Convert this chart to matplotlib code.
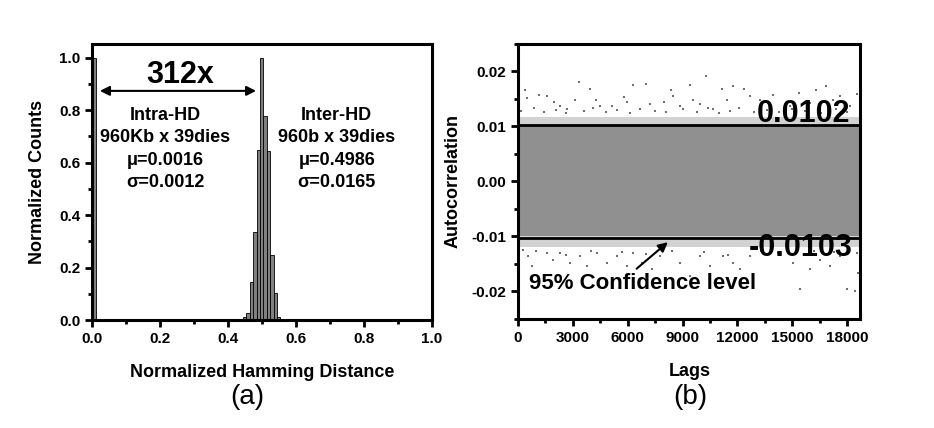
import numpy as np
import matplotlib.pyplot as plt

plt.rcParams['font.family'] = ['Liberation Sans', 'DejaVu Sans']
plt.rcParams['font.weight'] = 'bold'

# (a) histogram of hamming distance
intra_x = [0.006]
intra_h = [1.0]
inter_x = [0.449, 0.459, 0.469, 0.479, 0.489, 0.499, 0.509, 0.519, 0.529, 0.539, 0.549]
inter_h = [0.01, 0.025, 0.144, 0.335, 0.648, 1.0, 0.778, 0.643, 0.247, 0.102, 0.011]
bin_w = 0.01

# (b) autocorrelation vs lags
conf_hi = 0.0102
conf_lo = -0.0103
band_lags = [0, 18700]
core_hi = [0.0100, 0.0100]
core_lo = [-0.0100, -0.0100]
fringe_hi = [0.0118, 0.0118]
fringe_lo = [-0.0120, -0.0120]

up_lags = [383, 470, 1167, 1605, 1988, 2298, 2699, 3337, 3118, 3939, 4267, 4486, 5125,
           5818, 5946, 6292, 6985, 6675, 7222, 7988, 8352, 8498, 8863, 9410, 9593, 10268,
           9957, 10687, 11143, 11417, 11782, 12384, 12694, 13241, 13971, 15375, 14883,
           16305, 15977, 16852, 17254, 17618, 18530, 18165,
           150, 900, 1400, 2100, 2600, 3600, 4100, 4800, 5400, 6100, 7500, 8100, 9000,
           9800, 10400, 11000, 11600, 12100, 12900, 13600, 14300, 15000, 15700, 16600,
           17400, 18000]
up_vals = [0.0166, 0.0152, 0.0157, 0.0155, 0.0145, 0.0137, 0.0131, 0.0180, 0.0149, 0.0168,
           0.0149, 0.0137, 0.0137, 0.0154, 0.0145, 0.0176, 0.0177, 0.0131, 0.0140, 0.0145,
           0.0166, 0.0155, 0.0137, 0.0175, 0.0149, 0.0191, 0.0140, 0.0131, 0.0168, 0.0149,
           0.0174, 0.0168, 0.0155, 0.0149, 0.0158, 0.0161, 0.0137, 0.0166, 0.0143, 0.0174,
           0.0149, 0.0155, 0.0159, 0.0137,
           0.0128, 0.0133, 0.0126, 0.0130, 0.0125, 0.0128, 0.0134, 0.0127, 0.0130, 0.0125,
           0.0129, 0.0126, 0.0131, 0.0127, 0.0133, 0.0125, 0.0129, 0.0134, 0.0127, 0.0130,
           0.0126, 0.0132, 0.0128, 0.0125, 0.0131, 0.0127]
lo_lags = [565, 292, 748, 1568, 1933, 2298, 2845, 3392, 3757, 4304, 4851, 5398, 5946,
           6310, 6766, 7313, 7769, 8863, 9410, 9957, 10504, 11234, 11782, 12147, 12694,
           15065, 15430, 15977, 16524, 17071, 17618, 17983, 18439, 18621, 18530,
           1000, 2600, 4000, 5700, 7000, 8400, 10200, 11500, 13300, 14200, 16200, 17300]
lo_vals = [-0.0136, -0.0124, -0.0154, -0.0130, -0.0142, -0.0130, -0.0148, -0.0136, -0.0154,
           -0.0130, -0.0148, -0.0136, -0.0154, -0.0130, -0.0148, -0.0160, -0.0136, -0.0148,
           -0.0172, -0.0136, -0.0154, -0.0136, -0.0148, -0.0160, -0.0136, -0.0148, -0.0196,
           -0.0160, -0.0142, -0.0154, -0.0136, -0.0196, -0.0199, -0.0166, -0.0130,
           -0.0127, -0.0133, -0.0126, -0.0129, -0.0131, -0.0126, -0.0128, -0.0133, -0.0127,
           -0.0130, -0.0126, -0.0129]

fig = plt.figure(figsize=(9.34, 4.28), dpi=100)
ax1 = fig.add_axes([0.0985, 0.2523, 0.364, 0.645])
ax2 = fig.add_axes([0.5546, 0.2547, 0.366, 0.6425])

for ax in (ax1, ax2):
    for s in ax.spines.values():
        s.set_linewidth(2.2)
    ax.tick_params(which='both', direction='out', width=2, labelsize=11, top=False, right=False)
    ax.tick_params(which='major', length=5)
    ax.tick_params(which='minor', length=3)

# --- panel (a)
ax1.bar(intra_x, intra_h, width=bin_w, color='#808080', edgecolor='black', linewidth=0.6)
ax1.bar(inter_x, inter_h, width=bin_w, color='#808080', edgecolor='black', linewidth=0.6)
ax1.set_xlim(0, 1.0)
ax1.set_ylim(0, 1.053)
ax1.set_xticks(np.arange(0, 1.01, 0.2))
ax1.set_xticks(np.arange(0.1, 1.0, 0.2), minor=True)
ax1.set_yticks(np.arange(0, 1.01, 0.2))
ax1.set_yticks(np.arange(0.1, 1.0, 0.2), minor=True)
ax1.xaxis.set_major_formatter(plt.FormatStrFormatter('%.1f'))
ax1.yaxis.set_major_formatter(plt.FormatStrFormatter('%.1f'))
ax1.set_xlabel('Normalized Hamming Distance', fontsize=13, fontweight='bold')
ax1.set_ylabel('Normalized Counts', fontsize=13, fontweight='bold')
ax1.xaxis.set_label_coords(0.5, -0.16)
ax1.yaxis.set_label_coords(-0.135, 0.5)

ax1.annotate('', xy=(0.491, 0.874), xytext=(0.015, 0.874),
             arrowprops=dict(arrowstyle='<|-|>', color='black', lw=1.5,
                             mutation_scale=14))
ax1.text(0.26, 0.935, '312x', fontsize=22, fontweight='bold', ha='center', va='center')
intra_txt = ['Intra-HD', '960Kb x 39dies', 'μ=0.0016', 'σ=0.0012']
inter_txt = ['Inter-HD', '960b x 39dies', 'μ=0.4986', 'σ=0.0165']
line_y = [0.779, 0.695, 0.607, 0.523]
for t1, t2, yy in zip(intra_txt, inter_txt, line_y):
    ax1.text(0.215, yy, t1, fontsize=13, fontweight='bold', ha='center', va='center')
    ax1.text(0.72, yy, t2, fontsize=13, fontweight='bold', ha='center', va='center')

# --- panel (b)
ax2.fill_between(band_lags, fringe_lo, fringe_hi, color='#d2d2d2', linewidth=0)
ax2.fill_between(band_lags, core_lo, core_hi, color='#909090', linewidth=0)
ax2.scatter(up_lags, up_vals, s=4, marker='s', color='#6e6e6e', linewidths=0)
ax2.scatter(lo_lags, lo_vals, s=4, marker='s', color='#6e6e6e', linewidths=0)
ax2.axhline(conf_hi, color='black', lw=2)
ax2.axhline(conf_lo, color='black', lw=2)
ax2.set_xlim(0, 18700)
ax2.set_ylim(-0.025, 0.025)
ax2.set_xticks(np.arange(0, 18001, 3000))
ax2.set_xticks(np.arange(1500, 18700, 3000), minor=True)
ax2.set_yticks([-0.02, -0.01, 0.0, 0.01, 0.02])
ax2.set_yticks([-0.025, -0.015, -0.005, 0.005, 0.015, 0.025], minor=True)
ax2.yaxis.set_major_formatter(plt.FormatStrFormatter('%.2f'))
ax2.set_xlabel('Lags', fontsize=13, fontweight='bold')
ax2.set_ylabel('Autocorrelation', fontsize=13, fontweight='bold')
ax2.xaxis.set_label_coords(0.503, -0.16)
ax2.yaxis.set_label_coords(-0.164, 0.5)

ax2.text(18164, 0.0109, '0.0102', fontsize=22, fontweight='bold', ha='right', va='baseline')
ax2.text(18300, -0.0121, '-0.0103', fontsize=22, fontweight='bold', ha='right', va='center')
ax2.annotate('95% Confidence level', xy=(8316, -0.0107), xytext=(602, -0.0196),
             fontsize=16, fontweight='bold', ha='left', va='baseline',
             arrowprops=dict(arrowstyle='-|>', color='black', lw=1.5, mutation_scale=14,
                             relpos=(0.45, 1.0)))

fig.text(247 / 934, 1 - 397 / 428, '(a)', fontsize=20, fontweight='normal', ha='center', va='center')
fig.text(690 / 934, 1 - 397 / 428, '(b)', fontsize=20, fontweight='normal', ha='center', va='center')

fig.savefig('out.png', dpi=100)
